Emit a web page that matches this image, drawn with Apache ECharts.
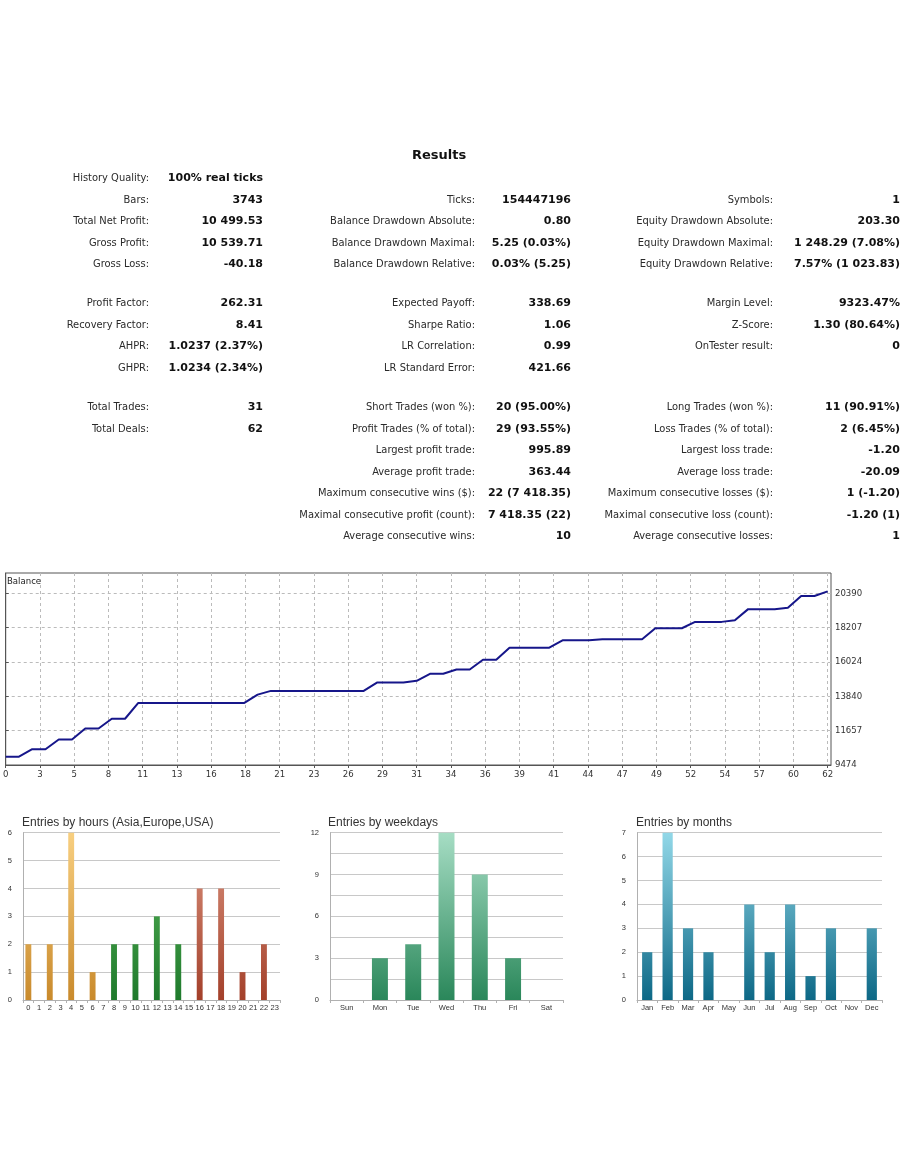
<!DOCTYPE html>
<html><head><meta charset="utf-8">
<script src="https://cdn.jsdelivr.net/npm/echarts@6/dist/echarts.min.js"></script>
<style>
html,body{margin:0;padding:0;background:#fff;}
#chart{position:absolute;left:0;top:0;width:910px;height:1155px;}
#table{position:absolute;left:0;top:0;width:910px;height:560px;z-index:2;}
.lab{position:absolute;font-family:'DejaVu Sans Condensed','DejaVu Sans',sans-serif;font-size:11px;color:#2a2a2a;white-space:nowrap;text-align:right;line-height:14px;}
.val{position:absolute;font-family:'DejaVu Sans','DejaVu Sans Condensed',sans-serif;font-size:11px;color:#111;font-weight:bold;white-space:nowrap;text-align:right;line-height:14px;}
.ttl{position:absolute;font-family:'DejaVu Sans',sans-serif;font-size:13px;font-weight:bold;color:#111;line-height:16px;}
</style></head>
<body>
<div id="chart"></div>
<div id="table"></div>
<script>
// ---------- Results table text ----------
var tableTitle = 'Results';
// rows: [rowIndex, label, value]
var col1Rows = [
  [0,'History Quality:','100% real ticks'],
  [1,'Bars:','3743'],
  [2,'Total Net Profit:','10 499.53'],
  [3,'Gross Profit:','10 539.71'],
  [4,'Gross Loss:','-40.18'],
  [5,'Profit Factor:','262.31'],
  [6,'Recovery Factor:','8.41'],
  [7,'AHPR:','1.0237 (2.37%)'],
  [8,'GHPR:','1.0234 (2.34%)'],
  [9,'Total Trades:','31'],
  [10,'Total Deals:','62']
];
var col2Rows = [
  [1,'Ticks:','154447196'],
  [2,'Balance Drawdown Absolute:','0.80'],
  [3,'Balance Drawdown Maximal:','5.25 (0.03%)'],
  [4,'Balance Drawdown Relative:','0.03% (5.25)'],
  [5,'Expected Payoff:','338.69'],
  [6,'Sharpe Ratio:','1.06'],
  [7,'LR Correlation:','0.99'],
  [8,'LR Standard Error:','421.66'],
  [9,'Short Trades (won %):','20 (95.00%)'],
  [10,'Profit Trades (% of total):','29 (93.55%)'],
  [11,'Largest profit trade:','995.89'],
  [12,'Average profit trade:','363.44'],
  [13,'Maximum consecutive wins ($):','22 (7 418.35)'],
  [14,'Maximal consecutive profit (count):','7 418.35 (22)'],
  [15,'Average consecutive wins:','10']
];
var col3Rows = [
  [1,'Symbols:','1'],
  [2,'Equity Drawdown Absolute:','203.30'],
  [3,'Equity Drawdown Maximal:','1 248.29 (7.08%)'],
  [4,'Equity Drawdown Relative:','7.57% (1 023.83)'],
  [5,'Margin Level:','9323.47%'],
  [6,'Z-Score:','1.30 (80.64%)'],
  [7,'OnTester result:','0'],
  [9,'Long Trades (won %):','11 (90.91%)'],
  [10,'Loss Trades (% of total):','2 (6.45%)'],
  [11,'Largest loss trade:','-1.20'],
  [12,'Average loss trade:','-20.09'],
  [13,'Maximum consecutive losses ($):','1 (-1.20)'],
  [14,'Maximal consecutive loss (count):','-1.20 (1)'],
  [15,'Average consecutive losses:','1']
];

// ---------- Balance chart ----------
var balanceX = [0,1,2,3,4,5,6,7,8,9,10,18,19,20,27,28,30,31,32,33,34,35,36,37,38,41,42,44,45,48,49,51,52,54,55,56,58,59,60,61,62];
var balanceY = [10000,10000,10476,10476,11089,11089,11792,11792,12411,12411,13413,13413,13943,14179,14179,14709,14709,14817,15264,15264,15539,15539,16158,16158,16924,16924,17390,17390,17454,17454,18156,18156,18560,18560,18667,19369,19369,19452,20199,20199,20499.53];
var balanceXTickLabels = ['0','3','5','8','11','13','16','18','21','23','26','29','31','34','36','39','41','44','47','49','52','54','57','60','62'];
var balanceYTicks = [9474,11657,13840,16024,18207,20390];

// ---------- Bar charts ----------
var hourCats = ['0','1','2','3','4','5','6','7','8','9','10','11','12','13','14','15','16','17','18','19','20','21','22','23'];
var hourVals = [2,0,2,0,6,0,1,0,2,0,2,0,3,0,2,0,4,0,4,0,1,0,2,0];
var dayCats = ['Sun','Mon','Tue','Wed','Thu','Fri','Sat'];
var dayVals = [0,3,4,12,9,3,0];
var monthCats = ['Jan','Feb','Mar','Apr','May','Jun','Jul','Aug','Sep','Oct','Nov','Dec'];
var monthVals = [2,7,3,2,0,4,2,4,1,3,0,3];

// ----- build table -----
(function(){
  var t = document.getElementById('table');
  var tt = document.createElement('div');
  tt.className='ttl'; tt.textContent = tableTitle;
  tt.style.left='412px'; tt.style.top='147px';
  t.appendChild(tt);
  function rowY(i){
    if(i<=4) return 178 + i*21.5;
    if(i<=8) return 303 + (i-5)*21.5;
    return 407 + (i-9)*21.5;
  }
  function add(rows, labRight, valRight){
    rows.forEach(function(r){
      var y = rowY(r[0]) - 7;
      var l = document.createElement('div');
      l.className='lab'; l.textContent=r[1];
      l.style.right=(910-labRight)+'px'; l.style.top=y+'px';
      t.appendChild(l);
      var v = document.createElement('div');
      v.className='val'; v.textContent=r[2];
      v.style.right=(910-valRight)+'px'; v.style.top=y+'px';
      t.appendChild(v);
    });
  }
  add(col1Rows,149,263);
  add(col2Rows,475,571);
  add(col3Rows,773,900);
})();

// ----- charts -----
var chart = echarts.init(document.getElementById('chart'), null, {renderer:'canvas'});
var xStep = 62/24;
var xTickPos = balanceXTickLabels.map(function(_,k){return k*xStep;});
var balanceData = balanceX.map(function(x,i){return [x,balanceY[i]];});

var barTop = 832.7, barBottom = 1000;
function grad(top, bottom){
  return {type:'linear', x:0, y:barTop, x2:0, y2:barBottom, global:true,
    colorStops:[{offset:0,color:top},{offset:1,color:bottom}]};
}
var sessionColors = [grad('#f8cf80','#c98a2c'), grad('#5cb85c','#1f7a2c'), grad('#dc9580','#a3402a')];
var hourData = hourVals.map(function(v,i){
  return {value:v, itemStyle:{color:sessionColors[Math.floor(i/8)]}};
});

var labelFont = 'DejaVu Sans Condensed';
var smallAxis = {
  axisLine:{show:true,lineStyle:{color:'#b0b0b0'}},
  axisTick:{show:true,length:3,lineStyle:{color:'#b0b0b0'}},
  axisLabel:{fontSize:7.5,color:'#333',fontFamily:'Liberation Sans',margin:4,interval:0}
};
function yAxisSmall(gi,max,interval,fmt){
  return {type:'value',gridIndex:gi,min:0,max:max,interval:interval,
    axisLine:{show:true,lineStyle:{color:'#b0b0b0'}},axisTick:{show:false},
    splitLine:{show:true,lineStyle:{color:'#c8c8c8',width:1}},
    axisLabel:{fontSize:7.5,color:'#333',fontFamily:'Liberation Sans',margin:11,formatter:fmt||'{value}'}};
}
var titleStyle = {fontSize:12,fontWeight:'normal',color:'#333',fontFamily:'Liberation Sans'};

chart.setOption({
  animation:false,
  title:[
    {text:'Balance',left:7,top:577,padding:0,textStyle:{fontSize:9.5,fontWeight:'normal',color:'#222',fontFamily:labelFont}},
    {text:'Entries by hours (Asia,Europe,USA)',left:22,top:817,padding:0,textStyle:titleStyle},
    {text:'Entries by weekdays',left:328,top:817,padding:0,textStyle:titleStyle},
    {text:'Entries by months',left:636,top:817,padding:0,textStyle:titleStyle}
  ],
  grid:[
    {left:4,top:573,width:827,height:192,show:true,borderColor:'#555',borderWidth:1,backgroundColor:'#fff'},
    {left:23,top:barTop,width:257,height:barBottom-barTop},
    {left:330,top:barTop,width:233,height:barBottom-barTop},
    {left:637,top:barTop,width:245,height:barBottom-barTop}
  ],
  xAxis:[
    {type:'value',gridIndex:0,min:0,max:62.25,
      axisLine:{show:true,lineStyle:{color:'#555'}},
      axisTick:{show:true,length:3,customValues:xTickPos,lineStyle:{color:'#555'}},
      axisLabel:{customValues:xTickPos,fontSize:9.5,color:'#333',fontFamily:labelFont,margin:5,
        formatter:function(v){return balanceXTickLabels[Math.round(v/xStep)];}},
      splitLine:{show:true,lineStyle:{color:'#bbb',type:[3,3]}}},
    Object.assign({type:'category',gridIndex:1,data:hourCats}, smallAxis),
    Object.assign({type:'category',gridIndex:2,data:dayCats}, smallAxis),
    Object.assign({type:'category',gridIndex:3,data:monthCats}, smallAxis)
  ],
  yAxis:[
    {type:'value',gridIndex:0,position:'right',min:9474,max:21663,
      axisLine:{show:true,lineStyle:{color:'#555'}},
      axisTick:{show:true,length:3,customValues:balanceYTicks,lineStyle:{color:'#555'}},
      axisLabel:{customValues:balanceYTicks,fontSize:9.5,color:'#333',fontFamily:labelFont,margin:4,
        formatter:function(v){return String(Math.round(v));}},
      splitLine:{show:true,lineStyle:{color:'#bbb',type:[3,3]}}},
    yAxisSmall(1,6,1),
    yAxisSmall(2,12,1.5,function(v){return v%3===0?String(v):'';}),
    yAxisSmall(3,7,1)
  ],
  series:[
    {type:'line',xAxisIndex:0,yAxisIndex:0,data:balanceData,showSymbol:false,
      lineStyle:{color:'#16168a',width:2},z:5},
    {type:'bar',xAxisIndex:1,yAxisIndex:1,data:hourData,barWidth:'55%'},
    {type:'bar',xAxisIndex:2,yAxisIndex:2,data:dayVals,barWidth:'48%',itemStyle:{color:grad('#a6ddc4','#2a875a')}},
    {type:'bar',xAxisIndex:3,yAxisIndex:3,data:monthVals,barWidth:'50%',itemStyle:{color:grad('#92d8e8','#0d6886')}}
  ]
});
</script>
</body></html>
